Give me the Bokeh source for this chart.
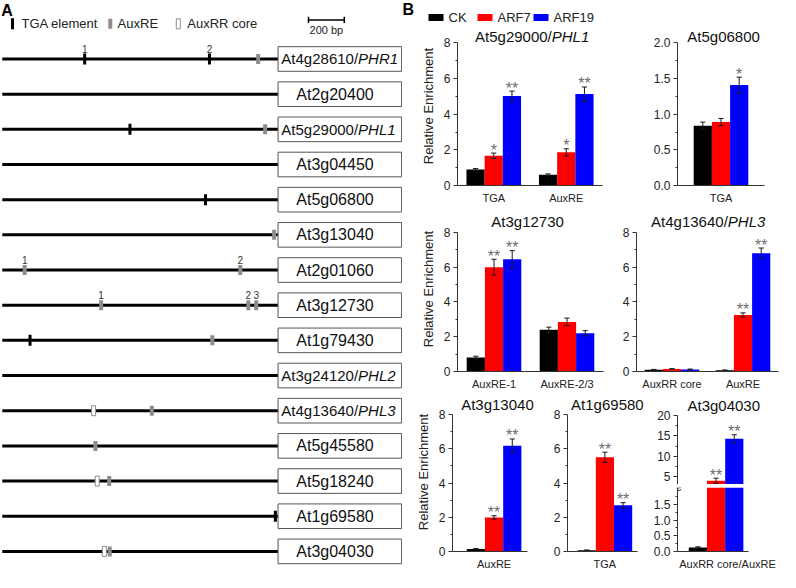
from bokeh.plotting import figure
from bokeh.layouts import row, column
from bokeh.models import Range1d, FixedTicker, PrintfTickFormatter
from bokeh.core.properties import value
from bokeh.embed import file_html
from bokeh.resources import INLINE

FONT = "Liberation Sans"
F = value(FONT)

# ---------------- Panel A data ----------------
gene_ids = ["At4g28610", "At2g20400", "At5g29000", "At3g04450", "At5g06800",
            "At3g13040", "At2g01060", "At3g12730", "At1g79430", "At3g24120",
            "At4g13640", "At5g45580", "At5g18240", "At1g69580", "At3g04030"]
gene_alias = ["PHR1", "", "PHL1", "", "", "", "", "", "", "PHL2", "PHL3", "", "", "", ""]
promoter_bp = 1540
tga_row = [0, 0, 2, 4, 8, 13]
tga_pos = [-1080, -383, -827, -405, -1385, -15]
tga_num = ["1", "2", "", "", "", ""]
auxre_row = [0, 2, 5, 6, 6, 7, 7, 7, 8, 10, 11, 12, 14]
auxre_pos = [-111, -72, -22, -1415, -211, -988, -166, -122, -367, -705, -1020, -943, -940]
auxre_num = ["", "", "", "1", "2", "1", "2", "3", "", "", "", "", ""]
auxrr_row = [10, 12, 14]
auxrr_pos = [-1030, -1010, -970]
element_names = ["TGA element", "AuxRE", "AuxRR core"]
scale_bp = 200

# ---------------- Panel B data ----------------
series = ["CK", "ARF7", "ARF19"]
series_colors = ["#000000", "#ff0000", "#0000ff"]

phl1_sites = ["TGA", "AuxRE"]
phl1_mean = {"CK": [0.90, 0.61], "ARF7": [1.67, 1.86], "ARF19": [5.02, 5.13]}
phl1_err = {"CK": [0.05, 0.04], "ARF7": [0.15, 0.20], "ARF19": [0.28, 0.40]}
phl1_sig = {"CK": ["", ""], "ARF7": ["*", "*"], "ARF19": ["**", "**"]}

g06800_sites = ["TGA"]
g06800_mean = {"CK": [0.84], "ARF7": [0.89], "ARF19": [1.41]}
g06800_err = {"CK": [0.05], "ARF7": [0.05], "ARF19": [0.11]}
g06800_sig = {"CK": [""], "ARF7": [""], "ARF19": ["*"]}

g12730_sites = ["AuxRE-1", "AuxRE-2/3"]
g12730_mean = {"CK": [0.80, 2.40], "ARF7": [6.00, 2.85], "ARF19": [6.45, 2.20]}
g12730_err = {"CK": [0.08, 0.15], "ARF7": [0.45, 0.22], "ARF19": [0.50, 0.15]}
g12730_sig = {"CK": ["", ""], "ARF7": ["**", ""], "ARF19": ["**", ""]}

phl3_sites = ["AuxRR core", "AuxRE"]
phl3_mean = {"CK": [0.10, 0.07], "ARF7": [0.15, 3.25], "ARF19": [0.12, 6.80]}
phl3_err = {"CK": [0.02, 0.02], "ARF7": [0.02, 0.12], "ARF19": [0.02, 0.30]}
phl3_sig = {"CK": ["", ""], "ARF7": ["", "**"], "ARF19": ["", "**"]}

g13040_sites = ["AuxRE"]
g13040_mean = {"CK": [0.15], "ARF7": [1.99], "ARF19": [6.17]}
g13040_err = {"CK": [0.02], "ARF7": [0.10], "ARF19": [0.40]}
g13040_sig = {"CK": [""], "ARF7": ["**"], "ARF19": ["**"]}

g69580_sites = ["TGA"]
g69580_mean = {"CK": [0.07], "ARF7": [5.50], "ARF19": [2.70]}
g69580_err = {"CK": [0.02], "ARF7": [0.30], "ARF19": [0.15]}
g69580_sig = {"CK": [""], "ARF7": ["**"], "ARF19": ["**"]}

g04030_sites = ["AuxRR core/AuxRE"]
g04030_mean = {"CK": [0.13], "ARF7": [4.10], "ARF19": [14.30]}
g04030_err = {"CK": [0.02], "ARF7": [0.60], "ARF19": [1.00]}
g04030_sig = {"CK": [""], "ARF7": ["**"], "ARF19": ["**"]}

CHAR_W = {"A": 0.667, "t": 0.278, "g": 0.556, "/": 0.278, "P": 0.667, "H": 0.722,
          "L": 0.556, "R": 0.722}


def text_w(s, fs):
    return sum(CHAR_W.get(ch, 0.556) for ch in s) * fs


def base_fig(w, h, xr, yr, bl=0, bb=0, xaxis=None, yaxis=None):
    p = figure(width=w, height=h, x_range=Range1d(*xr), y_range=Range1d(*yr),
               output_backend="svg", toolbar_location=None,
               min_border=0, min_border_left=bl, min_border_right=0,
               min_border_top=0, min_border_bottom=bb,
               x_axis_location=xaxis, y_axis_location=yaxis)
    p.outline_line_color = None
    p.xgrid.visible = False
    p.ygrid.visible = False
    p.background_fill_color = "white"
    p.border_fill_color = "white"
    return p


# ======================= Panel A =======================
PA_W, PA_H = 402, 572
pa = base_fig(PA_W, PA_H, (-1550, 695), (14.6, -1.663))
rows = list(range(len(gene_ids)))
BOX_R = 690

pa.text(x=[-1546], y=[-1.39], text=["A"], text_font=F, text_font_size="16px",
        text_font_style="bold", text_baseline="middle", text_align="left", text_color="#000")

# legend of elements
leg_mark_x = [-1483, -937, -557]
leg_text_x = [-1433, -896, -507]
pa.rect(x=[leg_mark_x[0]], y=[-1.0], width=3, height=11, width_units="screen",
        height_units="screen", fill_color="#000", line_color=None)
pa.rect(x=[leg_mark_x[1]], y=[-1.0], width=4, height=10, width_units="screen",
        height_units="screen", fill_color="#8c8c8c", line_color=None)
pa.rect(x=[leg_mark_x[2]], y=[-1.0], width=4, height=10, width_units="screen",
        height_units="screen", fill_color="#ffffff", line_color="#8c8c8c", line_width=1)
pa.text(x=leg_text_x, y=[-1.0] * 3, text=element_names, text_font=F, text_font_size="13px",
        text_baseline="middle", text_align="left", text_color="#222")

# scale bar
sb0, sb1 = 170, 170 + scale_bp
pa.segment(x0=[sb0], x1=[sb1], y0=[-1.11], y1=[-1.11], line_color="#000", line_width=1.5)
pa.segment(x0=[sb0, sb1], x1=[sb0, sb1], y0=[-1.2, -1.2], y1=[-1.02, -1.02],
           line_color="#000", line_width=1.5)
pa.text(x=[(sb0 + sb1) / 2], y=[-0.83], text=[f"{scale_bp} bp"], text_font=F,
        text_font_size="11px", text_baseline="middle", text_align="center", text_color="#222")

# promoter lines
pa.segment(x0=[-promoter_bp] * len(rows), x1=[0] * len(rows), y0=rows, y1=rows,
           line_color="#000", line_width=3)
# elements
pa.rect(x=tga_pos, y=tga_row, width=3, height=11, width_units="screen",
        height_units="screen", fill_color="#000", line_color=None)
pa.rect(x=auxre_pos, y=auxre_row, width=4, height=10, width_units="screen",
        height_units="screen", fill_color="#8c8c8c", line_color=None)
pa.rect(x=auxrr_pos, y=auxrr_row, width=4, height=10, width_units="screen",
        height_units="screen", fill_color="#ffffff", line_color="#8c8c8c", line_width=1)
num_x = tga_pos + auxre_pos
num_y = [r - 0.29 for r in tga_row + auxre_row]
pa.text(x=num_x, y=num_y, text=tga_num + auxre_num, text_font=F, text_font_size="10px",
        text_baseline="middle", text_align="center", text_color="#333")

# gene boxes
pa.quad(left=[0] * len(rows), right=[BOX_R] * len(rows), top=[r - 0.35 for r in rows],
        bottom=[r + 0.35 for r in rows], fill_color="white", line_color="#555", line_width=1)
plain_idx = [i for i in rows if not gene_alias[i]]
alias_idx = [i for i in rows if gene_alias[i]]
pa.text(x=[318] * len(plain_idx), y=[rows[i] for i in plain_idx],
        text=[gene_ids[i] for i in plain_idx], text_font=F, text_font_size="16px",
        text_baseline="middle", text_align="center", text_color="#111")
JOIN = 447
pa.text(x=[JOIN] * len(alias_idx), y=[rows[i] for i in alias_idx],
        text=[gene_ids[i] + "/" for i in alias_idx], text_font=F, text_font_size="15px",
        text_baseline="middle", text_align="right", text_color="#111")
pa.text(x=[JOIN] * len(alias_idx), y=[rows[i] for i in alias_idx],
        text=[gene_alias[i] for i in alias_idx], text_font=F, text_font_size="15px",
        text_font_style="italic", text_baseline="middle", text_align="left", text_color="#111")


# ======================= Panel B =======================
def style_axis(ax):
    ax.axis_line_color = "#333333"
    ax.axis_line_width = 1
    ax.major_tick_line_color = "#333333"
    ax.minor_tick_line_color = "#333333"
    ax.major_tick_out = 4
    ax.major_tick_in = 0
    ax.minor_tick_out = 2
    ax.minor_tick_in = 0
    ax.major_label_text_font = FONT
    ax.major_label_text_font_size = "12px"
    ax.major_label_text_color = "#222222"
    ax.major_label_standoff = 3


def chart(w, h, bl, bb, xr, xb, unit_px, yr, yb, yticks, yminor, groups, label_x,
          sites, mean, err, sig, gene=None, alias="", title_x=0.0, title_y=0.0,
          ylabel=None, xaxis=True, yfmt=None):
    p = base_fig(w, h, xr, yr, bl=bl, bb=bb, xaxis="below" if xaxis else None, yaxis="left")
    ya = p.yaxis[0]
    style_axis(ya)
    ya.ticker = FixedTicker(ticks=yticks, minor_ticks=yminor)
    ya.bounds = yb
    if yfmt:
        ya.formatter = PrintfTickFormatter(format=yfmt)
    if ylabel:
        ya.axis_label = ylabel
        ya.axis_label_text_font = FONT
        ya.axis_label_text_font_size = "13px"
        ya.axis_label_text_font_style = "normal"
        ya.axis_label_text_color = "#222222"
        ya.axis_label_standoff = 5
    if xaxis:
        xa = p.xaxis[0]
        style_axis(xa)
        xa.major_tick_line_color = None
        xa.minor_tick_line_color = None
        xa.major_label_text_font_size = "11px"
        xa.major_label_standoff = 2
        xa.ticker = FixedTicker(ticks=label_x, minor_ticks=[])
        xa.major_label_overrides = {float(x): s for x, s in zip(label_x, sites)}
        xa.bounds = xb
    bw = 18.2 / unit_px
    cap = 2.6 / unit_px
    for k, s in enumerate(series):
        xs = [g + (k - 1) * bw for g in groups]
        m, e = mean[s], err[s]
        lo = [a - b for a, b in zip(m, e)]
        hi = [a + b for a, b in zip(m, e)]
        p.vbar(x=xs, bottom=0, top=m, width=bw, fill_color=series_colors[k], line_color=None)
        p.segment(x0=xs, x1=xs, y0=lo, y1=hi, line_color="#1a1a1a", line_width=1)
        p.segment(x0=[x - cap for x in xs], x1=[x + cap for x in xs], y0=hi, y1=hi,
                  line_color="#1a1a1a", line_width=1)
        p.segment(x0=[x - cap for x in xs], x1=[x + cap for x in xs], y0=lo, y1=lo,
                  line_color="#1a1a1a", line_width=1)
        # significance marks, only where they fall inside this panel's range
        idx = [i for i, t in enumerate(sig[s]) if t and yr[0] <= hi[i] <= yr[1] * 0.95]
        if idx:
            p.text(x=[xs[i] for i in idx], y=[hi[i] for i in idx], text=[sig[s][i] for i in idx],
                   text_align="center", text_baseline="alphabetic", y_offset=-3, text_font=F,
                   text_font_size="16px", text_color="#6e6e6e")
    if gene:
        fs = 15
        if alias:
            a = gene + "/"
            wa, wb = text_w(a, fs), text_w(alias, fs)
            join = title_x + (wa - (wa + wb) / 2) / unit_px
            p.text(x=[join], y=[title_y], text=[a], text_align="right", text_baseline="middle",
                   text_font=F, text_font_size=f"{fs}px", text_color="#111")
            p.text(x=[join], y=[title_y], text=[alias], text_align="left", text_baseline="middle",
                   text_font=F, text_font_size=f"{fs}px", text_font_style="italic",
                   text_color="#111")
        else:
            p.text(x=[title_x], y=[title_y], text=[gene], text_align="center",
                   text_baseline="middle", text_font=F, text_font_size=f"{fs}px",
                   text_color="#111")
    return p


YL = "Relative Enrichment"
T8 = [0, 2, 4, 6, 8]
M8 = [1, 3, 5, 7]

# Row 1
c1 = chart(220, 180, 55, 20, (0, 165 / 72.5), (0, 2), 72.5, (0, 8.926), (0, 8), T8, M8,
           [0.5, 1.5], [0.5, 1.5], phl1_sites, phl1_mean, phl1_err, phl1_sig,
           gene="At5g29000", alias="PHL1", title_x=1.03, title_y=8.363, ylabel=YL)
c2 = chart(158, 180, 55, 20, (0, 103 / 87), (0, 1), 87, (0, 2.2315), (0, 2),
           [0, 0.5, 1, 1.5, 2], [0.25, 0.75, 1.25, 1.75], [0.5], [0.5],
           g06800_sites, g06800_mean, g06800_err, g06800_sig,
           gene="At5g06800", title_x=0.53, title_y=2.091, yfmt="%.1f")
# Row 2
c3 = chart(210, 186, 55, 20, (0, 155 / 73), (0, 2), 73, (0, 9.486), (0, 8), T8, M8,
           [0.5, 1.5], [0.5, 1.5], g12730_sites, g12730_mean, g12730_err, g12730_sig,
           gene="At3g12730", title_x=0.96, title_y=8.61, ylabel=YL)
c4 = chart(168, 186, 24, 20, (0, 144 / 71), (0, 2), 71, (0, 9.486), (0, 8), T8, M8,
           [0.5, 1.5], [0.5, 1.5], phl3_sites, phl3_mean, phl3_err, phl3_sig,
           gene="At4g13640", alias="PHL3", title_x=1.01, title_y=8.61)
# Row 3
c5 = chart(148, 180, 50, 16, (-0.568, -0.568 + 98 / 73.2), (-0.568, 0.456), 73.2,
           (0, 9.285), (0, 8), T8, M8, [0], [0], g13040_sites, g13040_mean, g13040_err,
           g13040_sig, gene="At3g13040", title_x=0.046, title_y=8.572, ylabel=YL)
c6 = chart(100, 180, 17, 16, (-0.511, -0.511 + 83 / 73.2), (-0.511, 0.445), 73.2,
           (0, 9.285), (0, 8), T8, M8, [0], [0], g69580_sites, g69580_mean, g69580_err,
           g69580_sig, gene="At1g69580", title_x=0.034, title_y=8.572)
c7u = chart(130, 92, 27, 0, (-0.527, -0.527 + 103 / 73.2), (-0.527, 0.443), 73.2,
            (3.17, 25.61), (3.17, 20), [5, 10, 15, 20], [7.5, 12.5, 17.5], [0], [0.156],
            g04030_sites, g04030_mean, g04030_err, g04030_sig,
            gene="At3g04030", title_x=0.105, title_y=22.54, xaxis=False)
c7l = chart(130, 85, 27, 16, (-0.527, -0.527 + 103 / 73.2), (-0.527, 0.443), 73.2,
            (0, 2.033), (0, 2.033), [0, 0.5, 1.0, 1.5], [0.25, 0.75, 1.25, 1.75], [0],
            [0.156], g04030_sites, g04030_mean, g04030_err, g04030_sig, yfmt="%.1f")
# axis-break marks (two short slanted strokes at the top of the lower axis)
bx = -0.527
c7l.segment(x0=[bx - 0.05, bx - 0.05], x1=[bx + 0.05, bx + 0.05], y0=[1.87, 1.95],
            y1=[1.97, 2.05], line_color="#333", line_width=1)

# Legend for panel B
lb = base_fig(378, 26, (0, 378), (26, 0))
lb.text(x=[0], y=[9], text=["B"], text_font=F, text_font_size="16px", text_font_style="bold",
        text_baseline="middle", text_align="left", text_color="#000")
leg_x = [26, 75, 131]
lb.rect(x=[x + 7.5 for x in leg_x], y=[17] * 3, width=15, height=7,
        fill_color=series_colors, line_color=None)
lb.text(x=[x + 20 for x in leg_x], y=[17] * 3, text=series, text_font=F,
        text_font_size="13px", text_baseline="middle", text_align="left", text_color="#222")

layout = row(pa, column(lb, row(c1, c2), row(c3, c4),
                        row(c5, c6, column(c7u, c7l, spacing=3))))

open("out.html", "w").write(file_html(layout, INLINE))
